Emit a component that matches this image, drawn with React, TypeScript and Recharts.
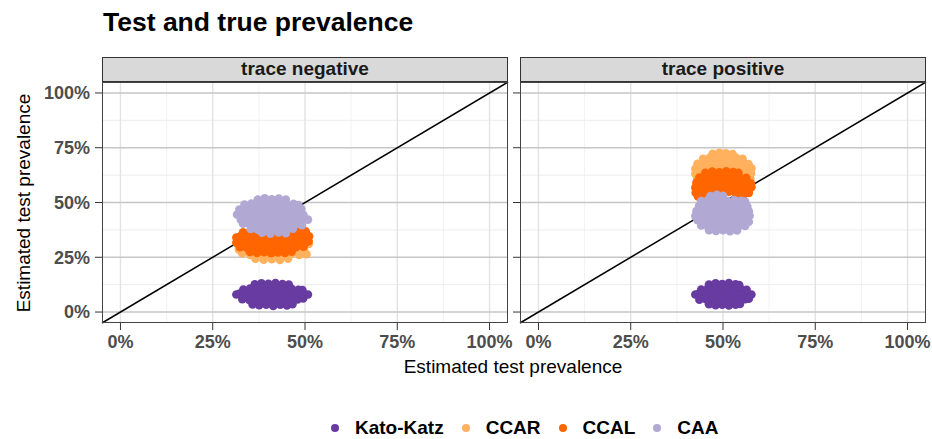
import { ReferenceLine, Scatter, ScatterChart, XAxis, YAxis } from "recharts";

type Pt = [number, number];

// values in percent: [true prevalence, estimated test prevalence]
const KK_NEG: Pt[] = [
  [36.4, 12.7], [38.2, 13.1], [40.1, 12.9], [42.0, 13.2], [43.9, 12.8], [45.6, 12.5],
  [33.3, 10.3], [35.1, 10.7], [37.0, 10.5], [38.9, 10.9], [40.8, 10.4], [42.7, 10.8], [44.6, 10.5], [46.4, 10.6], [48.2, 10.2], [49.3, 10.0],
  [31.4, 8.0], [32.3, 8.4], [34.2, 8.1], [36.0, 7.8], [37.9, 8.2], [39.8, 8.0], [41.7, 8.3], [43.6, 7.9], [45.5, 8.1], [47.3, 8.4], [49.2, 7.9], [50.8, 8.0],
  [33.0, 5.9], [34.9, 5.5], [36.8, 5.8], [38.7, 5.4], [40.6, 5.7], [42.5, 5.5], [44.4, 5.9], [46.2, 5.6], [48.0, 5.8], [49.5, 6.2],
  [35.8, 3.5], [37.6, 3.1], [39.5, 3.4], [41.4, 2.8], [43.3, 3.3], [45.1, 3.0], [46.6, 3.6],
];

const CCAR_NEG: Pt[] = [
  [32.8, 33.4], [35.0, 33.9], [37.2, 33.6], [39.4, 33.8], [41.6, 33.5], [43.8, 33.9], [46.0, 33.6], [48.2, 33.4], [50.4, 33.7],
  [31.8, 31.0], [34.0, 31.4], [36.2, 31.1], [38.4, 31.3], [40.6, 31.0], [42.8, 31.4], [45.0, 31.2], [47.2, 30.9], [49.4, 31.3], [51.0, 31.1],
  [32.1, 28.5], [34.3, 28.9], [36.5, 28.6], [38.7, 28.8], [40.9, 28.4], [43.1, 28.8], [45.3, 28.6], [47.5, 28.9], [49.7, 28.5],
  [33.0, 26.8], [35.2, 26.1], [37.4, 26.4], [39.6, 25.9], [41.8, 26.2], [44.0, 26.0], [46.2, 26.5], [48.4, 26.1], [50.4, 26.4],
  [36.6, 24.3], [38.8, 23.9], [41.0, 24.1], [43.2, 23.8], [45.4, 24.4],
];

const CCAL_NEG: Pt[] = [
  [33.2, 36.4], [35.1, 36.8], [37.0, 36.5], [38.9, 36.9], [40.8, 36.6], [42.7, 36.9], [44.6, 36.7], [46.5, 37.0], [48.4, 37.1], [50.2, 36.8],
  [31.4, 34.0], [32.4, 34.5], [34.3, 34.2], [36.2, 34.6], [38.1, 34.3], [40.0, 34.5], [41.9, 34.1], [43.8, 34.4], [45.7, 34.2], [47.6, 34.6], [49.5, 34.3], [51.1, 34.6],
  [31.4, 31.7], [33.3, 32.1], [35.2, 31.8], [37.1, 32.0], [39.0, 31.6], [40.9, 32.0], [42.8, 31.8], [44.7, 32.1], [46.6, 31.7], [48.5, 32.0], [50.3, 31.8], [51.0, 32.3],
  [32.4, 29.6], [34.3, 29.2], [36.2, 29.5], [38.1, 29.1], [40.0, 29.4], [41.9, 29.0], [43.8, 29.5], [45.7, 29.2], [47.6, 29.6], [49.6, 29.8],
  [35.1, 27.4], [37.0, 27.0], [38.9, 27.3], [40.8, 26.9], [42.7, 27.2], [44.6, 27.0], [46.4, 27.5],
];

const CAA_NEG: Pt[] = [
  [37.2, 51.3], [39.1, 51.9], [41.0, 51.5], [42.9, 51.8], [44.8, 51.4],
  [33.6, 49.1], [35.5, 49.5], [37.4, 49.2], [39.3, 49.6], [41.2, 49.3], [43.1, 49.5], [45.0, 49.1], [46.9, 49.4], [48.2, 48.8],
  [32.2, 46.8], [34.1, 47.2], [36.0, 46.9], [37.9, 47.1], [39.8, 46.8], [41.7, 47.2], [43.6, 46.9], [45.5, 47.1], [47.4, 46.7], [49.0, 47.0],
  [31.6, 44.5], [33.2, 44.9], [35.1, 44.6], [37.0, 44.8], [38.9, 44.5], [40.8, 44.9], [42.7, 44.6], [44.6, 44.8], [46.5, 44.5], [48.4, 44.7], [49.6, 44.3],
  [32.6, 42.2], [34.4, 42.6], [36.3, 42.3], [38.2, 42.5], [40.1, 42.2], [42.0, 42.6], [43.9, 42.3], [45.8, 42.5], [47.7, 42.1], [49.4, 42.4], [50.8, 42.2],
  [33.2, 40.3], [35.1, 39.9], [37.0, 40.2], [38.9, 39.8], [40.8, 40.1], [42.7, 39.9], [44.6, 40.3], [46.5, 40.0], [48.4, 40.2], [49.2, 39.6],
  [35.3, 37.9], [37.2, 37.6], [39.1, 37.9], [41.0, 37.5], [42.9, 37.8], [44.8, 37.6], [46.7, 38.0],
  [38.4, 36.2], [40.6, 35.8], [42.8, 36.3], [44.8, 36.0],
];

const KK_POS: Pt[] = [
  [46.2, 12.6], [48.0, 13.1], [49.8, 12.8], [51.6, 13.2], [53.4, 12.7], [54.4, 12.3],
  [44.1, 10.3], [45.9, 10.7], [47.7, 10.4], [49.5, 10.8], [51.3, 10.5], [53.1, 10.9], [54.9, 10.4], [56.4, 10.2],
  [42.5, 8.0], [43.5, 8.4], [45.3, 8.1], [47.1, 7.8], [48.9, 8.2], [50.7, 7.9], [52.5, 8.3], [54.3, 8.0], [56.1, 8.2], [57.7, 8.0],
  [43.6, 5.6], [45.4, 5.9], [47.2, 5.5], [49.0, 5.8], [50.8, 5.4], [52.6, 5.7], [54.4, 5.5], [56.0, 5.9], [57.0, 6.1],
  [46.2, 3.6], [48.0, 3.1], [49.8, 3.4], [51.6, 3.0], [53.4, 3.3], [54.6, 3.7],
];

const CCAR_POS: Pt[] = [
  [47.2, 72.2], [49.0, 72.7], [50.8, 72.5], [52.6, 72.1],
  [44.6, 70.0], [46.4, 70.4], [48.2, 70.1], [50.0, 70.5], [51.8, 70.2], [53.6, 70.4], [55.3, 69.9],
  [43.1, 67.7], [44.9, 68.1], [46.7, 67.8], [48.5, 68.0], [50.3, 67.7], [52.1, 68.1], [53.9, 67.8], [55.7, 68.0], [56.9, 67.5],
  [42.5, 65.4], [44.1, 65.8], [45.9, 65.5], [47.7, 65.7], [49.5, 65.4], [51.3, 65.8], [53.1, 65.5], [54.9, 65.7], [56.7, 65.4], [57.7, 65.6],
  [42.5, 63.1], [43.3, 63.5], [45.1, 63.2], [46.9, 63.4], [48.7, 63.1], [50.5, 63.5], [52.3, 63.2], [54.1, 63.4], [55.9, 63.0], [57.6, 63.3],
  [43.0, 61.2], [44.8, 60.8], [46.6, 61.1], [48.4, 60.7], [50.2, 61.0], [52.0, 60.8], [53.8, 61.2], [55.6, 60.9], [57.4, 61.1],
  [44.1, 58.8], [46.0, 58.5], [47.9, 58.9], [49.8, 58.4], [51.7, 58.8], [53.6, 58.5], [55.8, 58.9],
];

const CCAL_POS: Pt[] = [
  [45.2, 63.6], [47.1, 64.1], [49.0, 63.8], [50.9, 64.2], [52.8, 63.9], [54.2, 63.5],
  [43.6, 61.4], [45.4, 61.8], [47.2, 61.5], [49.0, 61.7], [50.8, 61.4], [52.6, 61.8], [54.4, 61.5], [56.3, 61.3],
  [42.8, 59.1], [44.3, 59.5], [46.1, 59.2], [47.9, 59.4], [49.7, 59.1], [51.5, 59.5], [53.3, 59.2], [55.1, 59.4], [56.9, 59.0], [57.6, 58.6],
  [42.5, 56.8], [43.5, 57.2], [45.3, 56.9], [47.1, 57.1], [48.9, 56.8], [50.7, 57.2], [52.5, 56.9], [54.3, 57.1], [56.1, 56.8], [57.7, 57.0],
  [42.6, 54.5], [44.4, 54.9], [46.2, 54.6], [48.0, 54.8], [49.8, 54.5], [51.6, 54.9], [53.4, 54.6], [55.2, 54.8], [57.0, 54.4],
  [43.2, 52.8], [44.9, 52.3], [53.6, 52.5], [55.4, 52.9],
];

const CAA_POS: Pt[] = [
  [46.6, 52.9], [48.3, 53.5], [50.0, 53.1],
  [44.1, 50.7], [45.9, 51.1], [47.7, 50.8], [49.5, 51.0], [51.3, 50.7], [53.1, 51.1], [54.9, 50.8], [56.0, 50.4],
  [43.5, 48.4], [45.3, 48.8], [47.1, 48.5], [48.9, 48.7], [50.7, 48.4], [52.5, 48.8], [54.3, 48.5], [56.1, 48.7], [56.6, 48.2],
  [42.8, 46.1], [44.4, 46.5], [46.2, 46.2], [48.0, 46.4], [49.8, 46.1], [51.6, 46.5], [53.4, 46.2], [55.2, 46.4], [57.0, 46.0],
  [42.5, 43.8], [43.6, 44.2], [45.4, 43.9], [47.2, 44.1], [49.0, 43.8], [50.8, 44.2], [52.6, 43.9], [54.4, 44.1], [56.2, 43.8], [57.2, 44.0],
  [43.1, 41.9], [44.9, 41.5], [46.7, 41.8], [48.5, 41.4], [50.3, 41.7], [52.1, 41.5], [53.9, 41.9], [55.7, 41.6], [57.0, 41.2],
  [44.1, 39.5], [45.9, 39.2], [47.7, 39.6], [49.5, 39.1], [51.3, 39.4], [53.1, 39.2], [54.9, 39.6], [56.0, 39.3],
  [46.2, 37.4], [48.1, 37.0], [50.0, 37.3], [51.9, 36.9], [53.8, 37.2],
];

const SERIES = ["Kato-Katz", "CCAR", "CCAL", "CAA"];
const COLORS = ["#673ba0", "#ffb15e", "#ff6600", "#b1a9d3"];
const NEG_CLOUDS = [KK_NEG, CCAR_NEG, CCAL_NEG, CAA_NEG];
const POS_CLOUDS = [KK_POS, CCAR_POS, CCAL_POS, CAA_POS];
const FACETS = ["trace negative", "trace positive"];
const TICKS = [0, 25, 50, 75, 100];
const MINOR = [12.5, 37.5, 62.5, 87.5];
const DOMAIN: [number, number] = [-5, 105];

const pct = (v: number) => `${v}%`;
const tickStyle = { fontSize: 18, fontWeight: 700, fill: "#4d4d4d" };

function Panel({
  clouds,
  label,
  left,
  width,
  yWidth,
  showY,
}: {
  clouds: Pt[][];
  label: string;
  left: number;
  width: number;
  yWidth: number;
  showY: boolean;
}) {
  const plotLeft = left + yWidth;
  return (
    <>
      <div
        style={{
          position: "absolute",
          left: plotLeft,
          top: 57,
          width: 406,
          height: 25,
          boxSizing: "border-box",
          border: "1px solid #333",
          background: "#d9d9d9",
          fontWeight: 700,
          fontSize: 19,
          lineHeight: "22px",
          textAlign: "center",
          color: "#1a1a1a",
        }}
      >
        {label}
      </div>
      <div style={{ position: "absolute", left, top: 82 }}>
        <ScatterChart width={width} height={271} margin={{ top: 0, right: width - yWidth - 406, bottom: 0, left: 0 }}>
          <XAxis
            type="number"
            dataKey="x"
            domain={DOMAIN}
            ticks={TICKS}
            interval={0}
            tickFormatter={pct}
            axisLine={false}
            tickSize={7}
            tickMargin={5}
            tickLine={{ stroke: "#333" }}
            tick={tickStyle}
            height={30}
          />
          <YAxis
            type="number"
            dataKey="y"
            domain={DOMAIN}
            ticks={TICKS}
            interval={0}
            tickFormatter={showY ? pct : () => ""}
            axisLine={false}
            tickSize={7}
            tickMargin={5}
            tickLine={{ stroke: "#333" }}
            tick={tickStyle}
            width={yWidth}
          />
          {MINOR.map((v) => (
            <ReferenceLine key={`vx${v}`} x={v} stroke="#f2f2f2" strokeWidth={1} />
          ))}
          {MINOR.map((v) => (
            <ReferenceLine key={`hy${v}`} y={v} stroke="#ececec" strokeWidth={1} />
          ))}
          {TICKS.map((v) => (
            <ReferenceLine key={`Vx${v}`} x={v} stroke="#e3e3e3" strokeWidth={1.4} />
          ))}
          {TICKS.map((v) => (
            <ReferenceLine key={`Hy${v}`} y={v} stroke="#c6c6c6" strokeWidth={1.6} />
          ))}
          {clouds.map((c, i) => (
            <Scatter
              key={SERIES[i]}
              name={SERIES[i]}
              data={c.map(([x, y]) => ({ x, y }))}
              fill={COLORS[i]}
              isAnimationActive={false}
              shape={(p: any) => <circle cx={p.cx} cy={p.cy} r={4.3} fill={COLORS[i]} />}
            />
          ))}
          <ReferenceLine
            segment={[
              { x: DOMAIN[0], y: DOMAIN[0] },
              { x: DOMAIN[1], y: DOMAIN[1] },
            ]}
            stroke="#000"
            strokeWidth={1.5}
          />
        </ScatterChart>
      </div>
      <div
        style={{
          position: "absolute",
          left: plotLeft,
          top: 82,
          width: 406,
          height: 241,
          boxSizing: "border-box",
          border: "1.2px solid #444",
          pointerEvents: "none",
        }}
      />
    </>
  );
}

export default function App() {
  return (
    <div
      style={{
        position: "absolute",
        left: 0,
        top: 0,
        width: 932,
        height: 439,
        background: "#fff",
        fontFamily: "'Liberation Sans', Arial, sans-serif",
        color: "#000",
        overflow: "hidden",
      }}
    >
      <div style={{ position: "absolute", left: 103, top: 9, fontSize: 26.5, fontWeight: 700, lineHeight: 1, whiteSpace: "nowrap" }}>
        Test and true prevalence
      </div>
      <Panel clouds={NEG_CLOUDS} label={FACETS[0]} left={0} width={516} yWidth={102} showY />
      <Panel clouds={POS_CLOUDS} label={FACETS[1]} left={508} width={424} yWidth={12} showY={false} />
      <div
        style={{
          position: "absolute",
          left: 23,
          top: 203,
          fontSize: 19,
          lineHeight: 1,
          whiteSpace: "nowrap",
          transform: "translate(-50%, -50%) rotate(-90deg)",
        }}
      >
        Estimated test prevalence
      </div>
      <div
        style={{
          position: "absolute",
          left: 513,
          top: 357,
          fontSize: 19,
          lineHeight: 1,
          whiteSpace: "nowrap",
          transform: "translateX(-50%)",
        }}
      >
        Estimated test prevalence
      </div>
      <div style={{ position: "absolute", left: 331, top: 418, display: "flex", alignItems: "center", lineHeight: 1 }}>
        {SERIES.map((s, i) => (
          <div key={s} style={{ display: "flex", alignItems: "center", marginRight: 18 }}>
            <span style={{ width: 8, height: 8, borderRadius: 4, background: COLORS[i], marginRight: 16 }} />
            <span style={{ fontSize: 19, fontWeight: 700 }}>{s}</span>
          </div>
        ))}
      </div>
    </div>
  );
}
